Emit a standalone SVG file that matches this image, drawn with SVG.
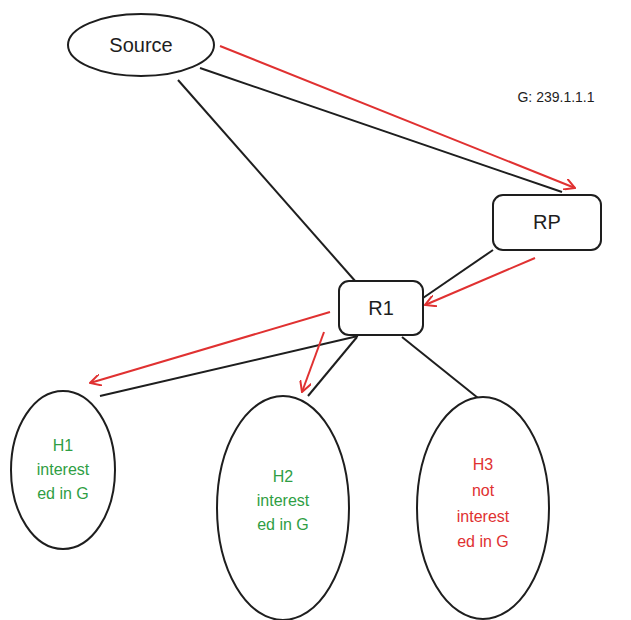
<svg xmlns="http://www.w3.org/2000/svg" width="631" height="620" viewBox="0 0 631 620">
<defs>
<style>
.s{fill:#fff;stroke:#1e1e1e;stroke-width:2}
.l{stroke:#1e1e1e;stroke-width:2;fill:none}
.r{stroke:#e03131;stroke-width:2;fill:none;marker-end:url(#a)}
text{font-family:"Liberation Sans",sans-serif;text-anchor:middle}
.g{fill:#2f9e44;font-size:16px}
.rd{fill:#e03131;font-size:16px}
.k{fill:#1e1e1e;font-size:20px}
</style>
<marker id="a" viewBox="0 0 12 12" refX="11" refY="6" markerWidth="12" markerHeight="12" markerUnits="userSpaceOnUse" orient="auto"><path d="M0,0 L11,6 L0,12" fill="none" stroke="#e03131" stroke-width="2"/></marker>
</defs>
<g id="connectors">
<line class="l" x1="200" y1="68" x2="562" y2="192"/>
<line class="l" x1="178" y1="80" x2="356" y2="282"/>
<line class="l" x1="493" y1="250" x2="423" y2="298"/>
<line class="l" x1="358" y1="336" x2="100" y2="396"/>
<line class="l" x1="357" y1="337" x2="308" y2="396"/>
<line class="l" x1="402" y1="337" x2="478" y2="398"/>
<line class="r" x1="220" y1="46" x2="575" y2="188"/>
<line class="r" x1="535" y1="258" x2="425" y2="305"/>
<line class="r" x1="330" y1="312" x2="90" y2="383"/>
<line class="r" x1="324" y1="332" x2="302" y2="392"/>
</g>
<g id="source"><ellipse class="s" cx="141" cy="45" rx="73" ry="31"/><text class="k" x="141" y="52">Source</text></g>
<g id="rp"><rect class="s" x="493" y="195" width="108" height="55" rx="10"/><text class="k" x="547" y="229">RP</text></g>
<g id="r1"><rect class="s" x="339" y="281" width="84" height="54" rx="10"/><text class="k" x="381" y="315">R1</text></g>
<g id="label"><text x="556" y="102" style="font-size:14px;fill:#1e1e1e">G: 239.1.1.1</text></g>
<g id="h1"><ellipse class="s" cx="63" cy="470" rx="52" ry="79"/>
<text class="g" x="63" y="451">H1</text><text class="g" x="63" y="475">interest</text><text class="g" x="63" y="499">ed in G</text></g>
<g id="h2"><ellipse class="s" cx="283" cy="508" rx="66" ry="112"/>
<text class="g" x="283" y="482">H2</text><text class="g" x="283" y="506">interest</text><text class="g" x="283" y="530">ed in G</text></g>
<g id="h3"><ellipse class="s" cx="483" cy="508" rx="66" ry="111"/>
<text class="rd" x="483" y="470">H3</text><text class="rd" x="483" y="496">not</text><text class="rd" x="483" y="522">interest</text><text class="rd" x="483" y="547">ed in G</text></g>
</svg>
